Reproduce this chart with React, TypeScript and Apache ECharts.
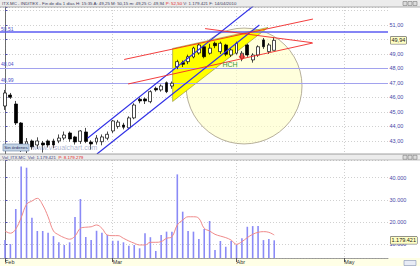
import React, { useEffect, useRef } from 'react';
import * as echarts from 'echarts';

// ITX.MC daily sessions, 1 Feb 2010 .. 14 Apr 2010 (index = session number)
const opens = [
  45.41, 46.17, 45.55, 44.24, 42.75, 43.0, 42.72, 42.86, 43.0, 43.0,
  43.0, 43.2, 43.55, 43.28, 42.97, 43.62, 42.93, 42.93, 42.95, 43.19,
  43.69, 44.0, 44.1, 43.9, 44.59, 45.88, 45.9, 45.71, 46.63, 46.52,
  47.02, 46.79, 48.12, 48.4, 48.47, 48.79, 49.07, 49.5, 49.05, 49.74,
  49.16, 49.62, 48.93, 49.05, 48.7, 49.62, 48.59, 48.93, 49.97, 49.16, 49.25,
];
const closes = [
  46.31, 46.01, 44.24, 42.59, 42.95, 42.59, 43.0, 42.72, 42.72, 42.72,
  43.2, 43.41, 43.14, 42.93, 43.69, 42.97, 42.79, 43.2, 43.28, 43.46,
  44.38, 44.3, 43.95, 44.59, 45.48, 45.76, 45.76, 46.4, 46.52, 46.79,
  46.4, 46.98, 48.47, 48.29, 48.81, 49.41, 49.62, 48.81, 49.4, 49.57,
  49.74, 48.98, 49.28, 49.74, 49.05, 48.93, 48.93, 49.5, 49.5, 49.62, 49.94,
];
const lows = [
  45.14, 45.9, 44.1, 42.24, 42.17, 42.4, 42.45, 42.2, 42.55, 42.5,
  42.85, 43.05, 42.95, 42.75, 42.8, 42.85, 42.4, 42.75, 42.7, 43.05,
  43.55, 43.85, 43.8, 43.8, 44.5, 45.6, 45.55, 45.6, 46.4, 46.4,
  46.3, 46.6, 47.95, 48.1, 48.3, 48.7, 48.95, 48.7, 48.95, 49.4,
  49.0, 48.85, 48.8, 48.95, 48.5, 48.8, 48.4, 48.8, 49.35, 49.0, 49.25,
];
const highs = [
  46.52, 46.31, 45.76, 44.3, 43.2, 43.1, 43.25, 43.0, 43.1, 43.15,
  43.45, 43.65, 43.65, 43.35, 43.75, 43.9, 43.05, 43.4, 43.45, 43.65,
  44.45, 44.45, 44.25, 44.7, 45.6, 46.0, 46.0, 46.5, 46.75, 46.9,
  47.1, 47.1, 48.6, 48.55, 48.95, 49.5, 49.75, 49.6, 49.7, 49.85,
  49.85, 49.7, 49.4, 49.85, 49.2, 49.7, 49.05, 49.6, 50.1, 49.75, 50.15,
];
const volumes = [
  1190000, 1010000, 2590000, 4500000, 4450000, 2200000, 1600000, 1600000, 1520000, 1370000,
  1090000, 970000, 1090000, 2230000, 3040000, 1330000, 1190000, 1610000, 1520000, 1420000,
  1160000, 1160000, 1090000, 940000, 970000, 820000, 1500000, 1320000, 700000, 1420000,
  1570000, 1570000, 4150000, 2470000, 1600000, 1570000, 1240000, 1690000, 2050000, 740000,
  1150000, 890000, 1150000, 970000, 1270000, 1790000, 1820000, 1820000, 1190000, 1240000, 1179421,
];
const volumeAvg = [
  1600000, 1500000, 1690000, 2200000, 2800000, 2950000, 3070000, 2770000, 2240000, 1600000,
  1420000, 1300000, 1230000, 1370000, 1720000, 1770000, 1790000, 1870000, 1720000, 1420000,
  1390000, 1390000, 1270000, 1150000, 1050000, 970000, 970000, 1090000, 1090000, 1120000,
  1270000, 1340000, 1870000, 2090000, 2240000, 2240000, 2170000, 1720000, 1600000, 1450000,
  1370000, 1300000, 1190000, 1000000, 1120000, 1300000, 1450000, 1540000, 1570000, 1540000, 1420000,
];

// time axis: first session of each month
const monthLabels = ['Feb', 'Mar', 'Abr', 'May'];
const monthStarts = [0, 20, 43, 63];

// drawing tools: [session, price]
const priceLevels = [50.51, 48.04, 46.99];
const channelLines = [
  [[15.32, 43.19], [46.12, 52.31]],
  [[17.07, 42.1], [47.24, 51.0]],
];
const redLines = [
  [[22.13, 48.62], [57.2, 51.41]],
  [[22.87, 46.93], [57.2, 49.76]],
  [[37.16, 50.75], [57.01, 49.78]],
];
const flagTriangle = [[31.13, 49.38], [31.13, 45.72], [48.85, 50.83]];
const patternCircle = [44.4, 46.79, 10.76]; // centre session, centre price, radius in sessions
const patternLabel = [41.8, 48.28];
const signalPoint = [44, 48.8];
const lastFigures = { prevDay: '52,50', accVolume: '8.179.279', time: '15:35', date: '14/04/2010' };

const FONT = '"Liberation Sans", Arial, sans-serif';
const last = closes.length - 1;
const fmtPrice = (v: number) => v.toFixed(2).replace('.', ',');
const fmtThousands = (n: number) => Math.round(n).toString().replace(/\B(?=(\d{3})+(?!\d))/g, '.');

const X_MIN = -0.93;
const X_MAX = 71.13;

function buildOption(): any {
  const dotted = { color: '#C4C4C4', type: [1, 2], width: 0.8 };
  const xBase = (gridIndex: number, showLabels: boolean) => ({
    type: 'value',
    gridIndex,
    min: X_MIN,
    max: X_MAX,
    axisLine: { show: showLabels, lineStyle: { color: '#8A8A8A', width: 0.8 } },
    axisTick: { show: showLabels, customValues: monthStarts, length: 4, lineStyle: { color: '#555' } },
    axisLabel: {
      show: showLabels,
      customValues: monthStarts,
      formatter: (v: number) => monthLabels[monthStarts.indexOf(Math.round(v))] ?? '',
      align: 'left',
      margin: 1,
      fontSize: 5.5,
      color: '#333',
      fontFamily: FONT,
    },
    splitLine: { show: true, lineStyle: dotted },
  });

  const titleText =
    `{a|ITX.MC - INDITEX - Fin de día 1 días H: ${lastFigures.time} A: ${fmtPrice(opens[last])} ` +
    `M: ${fmtPrice(highs[last])} m: ${fmtPrice(lows[last])} C: ${fmtPrice(closes[last])} }` +
    `{r|P: ${lastFigures.prevDay}}{a| V: ${fmtThousands(volumes[last])} F: ${lastFigures.date}}`;
  const volText = `{b|Vol_ITX.MC  Vol: ${fmtThousands(volumes[last])}  }{r|P: ${lastFigures.accVolume}}`;

  const winButtons = (y: number) =>
    [403, 408, 413].map((x) => ({
      type: 'rect',
      z: 50,
      shape: { x, y, width: 4, height: 4 },
      style: { fill: '#DCDCDC', stroke: '#6A6A6A', lineWidth: 0.5 },
    }));

  const valueBox = (text: string) => ({
    show: true,
    position: 'end',
    distance: 2.5,
    formatter: text,
    fontSize: 5.5,
    color: '#202020',
    backgroundColor: '#FFFFC4',
    borderColor: '#404040',
    borderWidth: 0.5,
    padding: [1, 1, 0, 1],
    fontFamily: FONT,
  });

  return {
    animation: false,
    backgroundColor: '#FFFFFF',
    textStyle: { fontFamily: FONT },
    grid: [
      { left: 0, top: 7, width: 388, height: 147 },
      { left: 0, top: 160, width: 388, height: 98 },
    ],
    xAxis: [xBase(0, false), xBase(1, true)],
    yAxis: [
      {
        type: 'value',
        gridIndex: 0,
        position: 'right',
        min: 42.1,
        max: 52.24,
        minInterval: 1,
        maxInterval: 1,
        axisLine: { show: true, lineStyle: { color: '#5E5E5E', width: 0.9 } },
        axisTick: { show: true, length: 2.5, lineStyle: { color: '#5050A8' } },
        axisLabel: {
          fontSize: 5.5,
          color: '#4848A8',
          margin: 1.5,
          fontFamily: FONT,
          formatter: (v: number) =>
            Math.abs(v - Math.round(v)) > 1e-6 || v >= 52 || Math.round(v) === 50 ? '' : fmtPrice(v),
        },
        splitLine: { show: true, lineStyle: dotted },
      },
      {
        type: 'value',
        gridIndex: 1,
        position: 'right',
        min: 382900,
        max: 4798000,
        minInterval: 1000000,
        maxInterval: 1000000,
        axisLine: { show: true, lineStyle: { color: '#5E5E5E', width: 0.9 } },
        axisTick: { show: true, length: 2.5, lineStyle: { color: '#5050A8' } },
        axisLabel: {
          fontSize: 5.5,
          color: '#4848A8',
          margin: 1.5,
          fontFamily: FONT,
          formatter: (v: number) => (v % 1000000 === 0 ? fmtThousands(v / 100) : ''),
        },
        splitLine: { show: true, lineStyle: dotted },
      },
    ],
    series: [
      {
        type: 'custom',
        xAxisIndex: 0,
        yAxisIndex: 0,
        z: 1,
        silent: true,
        data: [patternCircle],
        renderItem: (_p: any, api: any) => {
          const c = api.coord([api.value(0), api.value(1)]);
          const r = api.size([api.value(2), 0])[0];
          return {
            type: 'circle',
            shape: { cx: c[0], cy: c[1], r },
            style: { fill: 'rgba(255,255,196,0.6)', stroke: '#A49C86', lineWidth: 0.8 },
          };
        },
      },
      {
        type: 'custom',
        xAxisIndex: 0,
        yAxisIndex: 0,
        z: 2,
        silent: true,
        data: [flagTriangle[0]],
        renderItem: (_p: any, api: any) => ({
          type: 'polygon',
          shape: { points: flagTriangle.map((pt) => api.coord(pt)) },
          style: { fill: '#FFFF00', stroke: '#8C8C3C', lineWidth: 0.6 },
        }),
      },
      {
        type: 'candlestick',
        xAxisIndex: 0,
        yAxisIndex: 0,
        z: 5,
        barWidth: 3.4,
        encode: { x: 0, y: [1, 2, 3, 4] },
        data: opens.map((o, i) => [i, o, closes[i], lows[i], highs[i]]),
        itemStyle: {
          color: '#FFFFFF',
          color0: '#000000',
          borderColor: '#000000',
          borderColor0: '#000000',
          borderWidth: 0.7,
        },
        markLine: {
          silent: true,
          symbol: 'none',
          z: 3,
          data: [
            ...priceLevels.map((v, k) => ({
              yAxis: v,
              lineStyle: { color: k === 0 ? '#5C5CF2' : '#A2A2EE', width: k === 0 ? 1.5 : 1.2, type: 'solid' },
              label: {
                show: true,
                position: 'insideStartTop',
                distance: [1, 1],
                formatter: fmtPrice(v),
                fontSize: 5,
                color: '#5050C8',
                fontFamily: FONT,
              },
            })),
            {
              yAxis: closes[last],
              lineStyle: { color: 'rgba(0,0,0,0)', width: 0 },
              label: valueBox(fmtPrice(closes[last])),
            },
          ],
        },
      },
      ...channelLines.map((pts) => ({
        type: 'line',
        xAxisIndex: 0,
        yAxisIndex: 0,
        z: 6,
        data: pts,
        symbol: 'none',
        silent: true,
        lineStyle: { color: '#2F2FE6', width: 1.1 },
      })),
      ...redLines.map((pts) => ({
        type: 'line',
        xAxisIndex: 0,
        yAxisIndex: 0,
        z: 6,
        data: pts,
        symbol: 'none',
        silent: true,
        lineStyle: { color: '#F02828', width: 0.9 },
      })),
      {
        type: 'scatter',
        xAxisIndex: 0,
        yAxisIndex: 0,
        z: 7,
        data: [signalPoint],
        symbol: 'path://M2,0h2v2h2v2h-2v2h-2v-2h-2v-2h2z',
        symbolSize: 6,
        itemStyle: { color: '#E82020' },
      },
      {
        type: 'custom',
        xAxisIndex: 0,
        yAxisIndex: 0,
        z: 7,
        silent: true,
        data: [patternLabel],
        renderItem: (_p: any, api: any) => {
          const c = api.coord([api.value(0), api.value(1)]);
          return {
            type: 'text',
            x: c[0],
            y: c[1],
            style: {
              text: 'HCH',
              fill: '#3A9A3A',
              fontSize: 7,
              fontFamily: FONT,
              align: 'center',
              verticalAlign: 'middle',
            },
          };
        },
      },
      {
        type: 'bar',
        xAxisIndex: 1,
        yAxisIndex: 1,
        barWidth: 1.6,
        data: volumes.map((v, i) => [i, v]),
        itemStyle: { color: '#8A8AF6' },
        markLine: {
          silent: true,
          symbol: 'none',
          data: [
            {
              yAxis: volumes[last],
              lineStyle: { color: 'rgba(0,0,0,0)', width: 0 },
              label: valueBox(fmtThousands(volumes[last])),
            },
          ],
        },
      },
      {
        type: 'line',
        xAxisIndex: 1,
        yAxisIndex: 1,
        data: volumeAvg.map((v, i) => [i, v]),
        smooth: 0.4,
        symbol: 'none',
        lineStyle: { color: '#F08A8A', width: 1 },
      },
    ],
    graphic: [
      { type: 'rect', z: -10, shape: { x: 0, y: 0, width: 420, height: 7 }, style: { fill: '#ECECEC' } },
      { type: 'line', z: 40, shape: { x1: 0, y1: 7, x2: 420, y2: 7 }, style: { stroke: '#9A9A9A', lineWidth: 0.8 } },
      {
        type: 'text',
        z: 50,
        x: 2,
        y: 3.6,
        style: {
          text: titleText,
          verticalAlign: 'middle',
          rich: {
            a: { fontSize: 4.4, fill: '#3A3A5A', fontFamily: FONT },
            r: { fontSize: 4.4, fill: '#E02020', fontFamily: FONT },
          },
        },
      },
      ...winButtons(1.5),
      { type: 'rect', z: 40, shape: { x: 0, y: 154, width: 420, height: 6 }, style: { fill: '#ECECEC' } },
      { type: 'line', z: 41, shape: { x1: 0, y1: 154, x2: 420, y2: 154 }, style: { stroke: '#8A8A8A', lineWidth: 0.8 } },
      { type: 'line', z: 41, shape: { x1: 0, y1: 160, x2: 420, y2: 160 }, style: { stroke: '#9A9A9A', lineWidth: 0.6 } },
      {
        type: 'text',
        z: 50,
        x: 2,
        y: 157.2,
        style: {
          text: volText,
          verticalAlign: 'middle',
          rich: {
            b: { fontSize: 4.4, fill: '#3A3A7A', fontFamily: FONT },
            r: { fontSize: 4.4, fill: '#E02020', fontFamily: FONT },
          },
        },
      },
      ...winButtons(155.3),
      { type: 'rect', z: -10, shape: { x: 0, y: 258, width: 420, height: 8 }, style: { fill: '#FFFFE6' } },
      {
        type: 'rect',
        z: 50,
        shape: { x: 404, y: 260.5, width: 12, height: 5 },
        style: { fill: '#E8ECF6', stroke: '#6A7AA8', lineWidth: 0.5 },
      },
      {
        type: 'rect',
        z: 50,
        shape: { x: 3, y: 144, width: 26, height: 7 },
        style: { fill: '#C4D4E6', stroke: '#6C84A8', lineWidth: 0.6 },
      },
      {
        type: 'text',
        z: 51,
        x: 16,
        y: 147.6,
        style: { text: 'Sin órdenes', fontSize: 4.4, fill: '#1E2E5E', fontFamily: FONT, align: 'center', verticalAlign: 'middle' },
      },
      {
        type: 'text',
        z: 51,
        x: 32,
        y: 147.6,
        style: {
          text: 'www.visualchart.com',
          fontSize: 7,
          fill: 'rgba(130,140,185,0.65)',
          fontFamily: FONT,
          verticalAlign: 'middle',
        },
      },
    ],
  };
}

export default function App() {
  const ref = useRef<HTMLDivElement>(null);
  useEffect(() => {
    if (!ref.current) return;
    const chart = echarts.init(ref.current, null, { renderer: 'svg', width: 420, height: 266 });
    chart.setOption(buildOption());
    return () => chart.dispose();
  }, []);
  return (
    <div
      ref={ref}
      style={{ position: 'fixed', left: 0, top: 0, width: 420, height: 266, background: '#FFFFFF' }}
    />
  );
}
